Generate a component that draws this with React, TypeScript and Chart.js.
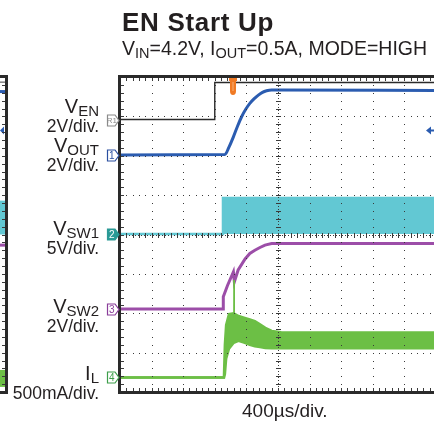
import React, { useEffect, useRef } from "react";
import { Chart, registerables } from "chart.js";
Chart.register(...registerables);

// ---- axis (units = scope divisions) ----
const X_MAX = 9.94;
const Y_MAX = 8;
const X_DIVS = [1, 2, 3, 4, 5, 6, 7, 8, 9];
const Y_DIVS = [1, 2, 3, 4, 5, 6, 7];

// ---- traces ----
const venX = [0, 3.0, 3.0, 9.94];
const venY = [6.92, 6.92, 7.86, 7.86];

const voutX = [0, 3.32, 3.45, 3.59, 3.72, 3.85, 3.98, 4.11, 4.25, 4.38, 4.51, 4.64, 4.8, 4.96, 9.94];
const voutY = [6.02, 6.03, 6.22, 6.48, 6.75, 6.99, 7.18, 7.33, 7.45, 7.54, 7.61, 7.65, 7.67, 7.67, 7.66];

const vsw1X = [0, 3.26, 3.26, 9.94];
const vsw1Top = [4.01, 4.01, 4.93, 4.93];
const VSW1_BASE = 4.01;

const vsw2X = [0, 3.27, 3.27, 3.4, 3.59, 3.62, 3.74, 3.96, 4.11, 4.27, 4.43, 4.59, 4.8, 9.94];
const vsw2Y = [2.11, 2.11, 2.42, 2.7, 3.05, 2.8, 3.1, 3.38, 3.52, 3.6, 3.67, 3.73, 3.77, 3.77];

const ilX = [0, 3.29, 3.32, 3.36, 3.45, 3.6, 3.75, 3.95, 4.11, 4.27, 4.43, 4.6, 4.8, 5.1, 6.0, 7.0, 8.0, 9.0, 9.94];
const ilUpper = [0.37, 0.37, 1.2, 1.7, 1.98, 2.0, 1.93, 1.88, 1.84, 1.8, 1.72, 1.63, 1.55, 1.52, 1.51, 1.51, 1.51, 1.51, 1.51];
const ilLower = [0.37, 0.37, 0.45, 0.85, 1.1, 1.25, 1.3, 1.25, 1.2, 1.16, 1.14, 1.12, 1.11, 1.11, 1.11, 1.11, 1.11, 1.11, 1.11];
const ilSpikeX = [3.6, 3.61, 3.62];
const ilSpikeY = [1.9, 2.84, 1.9];

// ---- channel markers (ground levels) ----
const markerLabels = ["R1", "1", "2", "3", "4"];
const markerLevels = [6.92, 6.02, 4.01, 2.11, 0.37];
const TRIGGER_X = 3.58;
const TRIGGER_LEVEL = 6.65;

// ---- neighbouring panel strip on the far left (levels) ----
const leftStripLines = [7.87, 7.63, 3.73];
const leftStripBands = [[4.0, 4.86], [0.13, 0.56]];

// ---- colours ----
const C_BLUE = "#2b5cb0";
const C_CYAN = "#62c8d3";
const C_MAG = "#9c4ea8";
const C_GREEN = "#6cbf45";
const C_TEXT = "#231f20";
const FONT = "'Liberation Sans', Arial, Helvetica, sans-serif";

const pts = (xs: number[], ys: number[]) => xs.map((x, i) => ({ x, y: ys[i] }));

const gridPlugin = {
  id: "scopeGrid",
  afterDatasetsDraw(chart: any) {
    const { ctx, chartArea: a, scales } = chart;
    const x = scales.x, y = scales.y;
    ctx.save();
    ctx.fillStyle = "#3a3a3a";
    X_DIVS.forEach((d) => {
      const px = Math.round(x.getPixelForValue(d));
      for (let j = 1; j < Y_MAX * 5; j++) {
        const py = Math.round(y.getPixelForValue(j / 5));
        ctx.fillRect(px, py, 1, 1);
      }
    });
    Y_DIVS.forEach((d) => {
      const py = Math.round(y.getPixelForValue(d));
      for (let j = 1; j < Math.floor(X_MAX * 5) + 1; j++) {
        const px = Math.round(x.getPixelForValue(j / 5));
        ctx.fillRect(px, py, 1, 1);
      }
    });
    const cx = Math.round(x.getPixelForValue(5));
    const cy = Math.round(y.getPixelForValue(4));
    for (let py = a.top; py < a.bottom; py += 3) ctx.fillRect(cx, py, 1, 1);
    for (let px = a.left; px < a.right; px += 3) ctx.fillRect(px, cy, 1, 1);
    for (let j = 1; j < Y_MAX * 5; j++) {
      const py = Math.round(y.getPixelForValue(j / 5));
      ctx.fillRect(cx - 2, py, 5, 1);
    }
    for (let j = 1; j < X_MAX * 5; j++) {
      const px = Math.round(x.getPixelForValue(j / 5));
      ctx.fillRect(px, cy - 2, 1, 5);
    }
    for (let j = 1; j < Y_MAX * 5; j++) {
      const py = Math.round(y.getPixelForValue(j / 5));
      ctx.fillRect(a.left, py, 4, 1);
    }
    for (let j = 1; j < X_MAX * 5; j++) {
      const px = Math.round(x.getPixelForValue(j / 5));
      ctx.fillRect(px, a.top, 1, 4);
      ctx.fillRect(px, a.bottom - 4, 1, 4);
    }
    ctx.fillStyle = "#2a2a2a";
    ctx.fillRect(a.left - 2, a.top - 2, 3, a.bottom - a.top + 4);
    ctx.fillRect(a.left - 2, a.top - 2, a.right - a.left + 4, 3);
    ctx.fillRect(a.left - 2, a.bottom - 1, a.right - a.left + 4, 3);
    ctx.restore();
  },
  afterDraw(chart: any) {
    const { ctx, chartArea: a, scales } = chart;
    const x = scales.x, y = scales.y;
    ctx.save();
    markerLabels.forEach((lab, i) => {
      const cy = Math.round(y.getPixelForValue(markerLevels[i])) + 0.5;
      const l = 107.5, r = 115, tip = 119, h = 5.5;
      const styles: any = [
        { s: "#8a8a8a", f: "#fff", t: "#8a8a8a" },
        { s: "#2a4fa0", f: "#fff", t: "#2a4fa0" },
        { s: "#2a9a96", f: "#2a9a96", t: "#fff" },
        { s: "#8a3d9a", f: "#fff", t: "#8a3d9a" },
        { s: "#3d9e4a", f: "#fff", t: "#3d9e4a" },
      ][i];
      ctx.beginPath();
      ctx.moveTo(l, cy - h);
      ctx.lineTo(r, cy - h);
      ctx.lineTo(tip, cy);
      ctx.lineTo(r, cy + h);
      ctx.lineTo(l, cy + h);
      ctx.closePath();
      ctx.fillStyle = styles.f;
      ctx.fill();
      ctx.strokeStyle = styles.s;
      ctx.lineWidth = 1.2;
      ctx.stroke();
      ctx.fillStyle = styles.t;
      ctx.font = (lab.length > 1 ? "8px " : "10px ") + FONT;
      ctx.textAlign = "center";
      ctx.textBaseline = "middle";
      ctx.fillText(lab, (l + r) / 2 + 0.5, cy + 0.5);
    });
    const tx = Math.round(x.getPixelForValue(TRIGGER_X));
    ctx.fillStyle = "#f07a24";
    ctx.beginPath();
    ctx.moveTo(tx - 4, a.top + 1);
    ctx.lineTo(tx + 4, a.top + 1);
    ctx.lineTo(tx + 4, a.top + 4);
    ctx.lineTo(tx + 3, a.top + 4);
    ctx.lineTo(tx + 3, a.top + 14);
    ctx.quadraticCurveTo(tx + 3, a.top + 18, tx, a.top + 18);
    ctx.quadraticCurveTo(tx - 3, a.top + 18, tx - 3, a.top + 14);
    ctx.lineTo(tx - 3, a.top + 4);
    ctx.lineTo(tx - 4, a.top + 4);
    ctx.closePath();
    ctx.fill();
    ctx.fillStyle = "#f8b27a";
    ctx.fillRect(tx - 0.5, a.top + 5, 1, 9);
    const ty = Math.round(y.getPixelForValue(TRIGGER_LEVEL)) + 0.5;
    ctx.fillStyle = C_BLUE;
    ctx.beginPath();
    ctx.moveTo(a.right - 8, ty);
    ctx.lineTo(a.right - 3, ty - 4);
    ctx.lineTo(a.right - 3, ty + 4);
    ctx.closePath();
    ctx.fill();
    ctx.fillRect(a.right - 4, ty - 1, 4, 2);
    const sx = 0, sw = 5;
    leftStripBands.forEach((b, i) => {
      ctx.fillStyle = i === 0 ? C_CYAN : C_GREEN;
      const y1 = y.getPixelForValue(b[1]), y0 = y.getPixelForValue(b[0]);
      ctx.fillRect(sx, y1, sw, y0 - y1);
    });
    leftStripLines.forEach((v, i) => {
      ctx.fillStyle = ["#444", C_BLUE, C_MAG][i];
      const py = y.getPixelForValue(v);
      ctx.fillRect(sx, py - (i === 0 ? 0.5 : 1.5), sw, i === 0 ? 1 : 3);
    });
    ctx.fillStyle = C_BLUE;
    ctx.beginPath();
    ctx.moveTo(0, ty);
    ctx.lineTo(4, ty - 4);
    ctx.lineTo(4, ty + 4);
    ctx.closePath();
    ctx.fill();
    ctx.fillStyle = "#3a3a3a";
    for (let j = 1; j < Y_MAX * 5; j++) {
      const py = Math.round(y.getPixelForValue(j / 5));
      ctx.fillRect(2, py, 3, 1);
    }
    ctx.fillStyle = "#2a2a2a";
    ctx.fillRect(5, a.top - 2, 3, a.bottom - a.top + 4);
    ctx.fillRect(0, a.top - 2, 8, 3);
    ctx.fillRect(0, a.bottom - 1, 8, 3);
    ctx.restore();
  },
};

function Txt(props: any) {
  const { x, base, size, bold, align, children, spacing } = props;
  const style: any = {
    position: "absolute",
    top: base - 0.85 * size,
    fontSize: size,
    lineHeight: 1,
    fontWeight: bold ? 700 : 400,
    whiteSpace: "nowrap",
    color: C_TEXT,
    fontFamily: FONT,
    letterSpacing: spacing || 0,
  };
  if (align === "right") style.right = 434 - x;
  else style.left = x;
  return <div style={style}>{children}</div>;
}

function Sub(props: any) {
  return (
    <span style={{ fontSize: props.size || 15, position: "relative", top: props.drop ?? 3 }}>
      {props.children}
    </span>
  );
}

export default function App() {
  const ref = useRef<HTMLCanvasElement>(null);
  useEffect(() => {
    const chart = new Chart(ref.current as HTMLCanvasElement, {
      type: "line",
      data: {
        datasets: [
          { label: "IL spike", data: pts(ilSpikeX, ilSpikeY), borderColor: C_GREEN, borderWidth: 1, fill: false },
          { label: "VEN", data: pts(venX, venY), borderColor: "#2a2a2a", borderWidth: 1.4, fill: false },
          { label: "VOUT", data: pts(voutX, voutY), borderColor: C_BLUE, borderWidth: 3, fill: false, cubicInterpolationMode: "monotone" },
          { label: "VSW2", data: pts(vsw2X, vsw2Y), borderColor: C_MAG, borderWidth: 3, fill: false },
          { label: "IL low", data: pts(ilX, ilLower), borderColor: C_GREEN, borderWidth: 2.5, fill: false },
          { label: "IL high", data: pts(ilX, ilUpper), borderColor: C_GREEN, borderWidth: 2.5, backgroundColor: C_GREEN, fill: "-1" },
          { label: "VSW1", data: pts(vsw1X, vsw1Top), borderColor: C_CYAN, borderWidth: 2.5, backgroundColor: C_CYAN, fill: { value: VSW1_BASE } },
        ] as any,
      },
      options: {
        animation: false,
        responsive: false,
        maintainAspectRatio: false,
        layout: { padding: { left: 120, top: 77, right: 0, bottom: 30 } },
        scales: {
          x: { type: "linear", min: 0, max: X_MAX, display: false },
          y: { type: "linear", min: 0, max: Y_MAX, display: false },
        },
        plugins: { legend: { display: false }, tooltip: { enabled: false } },
        elements: { point: { radius: 0 }, line: { tension: 0 } },
      } as any,
      plugins: [gridPlugin],
    });
    return () => chart.destroy();
  }, []);

  return (
    <div style={{ position: "fixed", left: 0, top: 0, width: 434, height: 422, background: "#fff", overflow: "hidden" }}>
      <canvas ref={ref} width={434} height={422} style={{ position: "absolute", left: 0, top: 0, width: 434, height: 422 }} />
      <Txt x={122} base={30.7} size={26} bold spacing={0.7}>EN Start Up</Txt>
      <Txt x={122} base={56} size={19.5}>
        V<Sub size={14.5}>IN</Sub>=4.2V, I<Sub size={14.5}>OUT</Sub>=0.5A, MODE=HIGH
      </Txt>
      <Txt x={99} base={112.7} size={20} align="right">V<Sub>EN</Sub></Txt>
      <Txt x={99} base={133.3} size={17.5} align="right">2V/div.</Txt>
      <Txt x={99} base={151.7} size={20} align="right">V<Sub>OUT</Sub></Txt>
      <Txt x={99} base={171.7} size={17.5} align="right">2V/div.</Txt>
      <Txt x={99} base={235} size={20} align="right">V<Sub>SW1</Sub></Txt>
      <Txt x={99} base={255} size={17.5} align="right">5V/div.</Txt>
      <Txt x={99} base={313} size={20} align="right">V<Sub>SW2</Sub></Txt>
      <Txt x={99} base={332.7} size={17.5} align="right">2V/div.</Txt>
      <Txt x={99} base={380} size={20} align="right">I<Sub>L</Sub></Txt>
      <Txt x={99} base={400} size={17.5} align="right">500mA/div.</Txt>
      <Txt x={242} base={416.7} size={19}>400µs/div.</Txt>
    </div>
  );
}
